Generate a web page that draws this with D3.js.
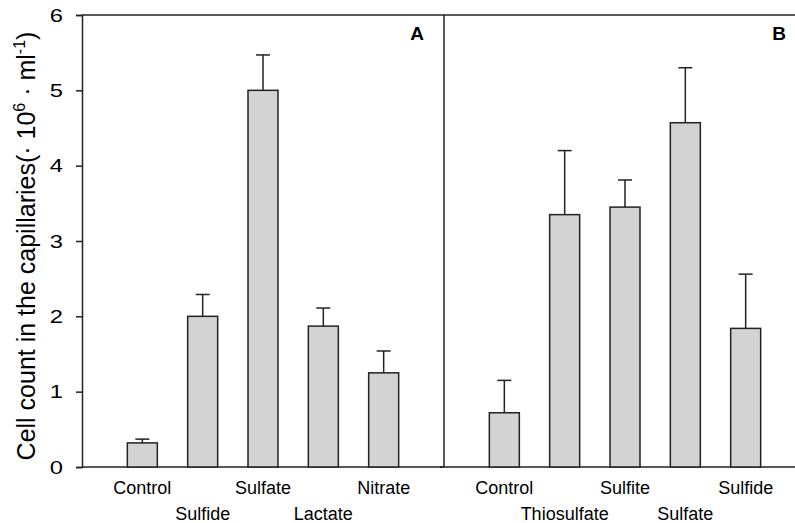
<!DOCTYPE html>
<html lang="en">
<head>
  <meta charset="UTF-8">
  <title>Cell count in the capillaries</title>
  <script src="https://d3js.org/d3.v7.min.js"></script>
  <style>
    body { margin: 0; background: #fff; }
    text { font-family: "Liberation Sans", Arial, sans-serif; fill: #000; }
    .frame { stroke: #222; stroke-width: 1.5; fill: none; }
    .bar { fill: #d3d3d3; stroke: #222; stroke-width: 1.5; }
    .err { stroke: #222; stroke-width: 1.5; }
  </style>
</head>
<body>
<svg width="795" height="523"></svg>
<script>
  // Panel A
  const catsA = ["Control", "Sulfide", "Sulfate", "Lactate", "Nitrate"];
  const valsA = [0.32, 2.0, 5.0, 1.87, 1.25];
  const errA  = [0.05, 0.29, 0.47, 0.24, 0.29];
  // Panel B
  const catsB = ["Control", "Thiosulfate", "Sulfite", "Sulfate", "Sulfide"];
  const valsB = [0.72, 3.35, 3.45, 4.57, 1.84];
  const errB  = [0.43, 0.85, 0.36, 0.73, 0.72];
  const yTicks = [0, 1, 2, 3, 4, 5, 6];

  const svg = d3.select("svg");
  const padL = 82, padMid = 444, padT = 15, padB = 467, padR = 806;

  const y = d3.scaleLinear().domain([0, 6]).range([padB, padT]);

  // frame
  svg.append("line").attr("class", "frame")
    .attr("x1", padL).attr("x2", 795).attr("y1", padT).attr("y2", padT);
  svg.append("line").attr("class", "frame")
    .attr("x1", padL).attr("x2", 795).attr("y1", padB).attr("y2", padB);
  svg.append("line").attr("class", "frame")
    .attr("x1", padMid).attr("x2", padMid).attr("y1", padT).attr("y2", padB);
  svg.append("line").attr("class", "frame")
    .attr("x1", padMid - 4).attr("x2", padMid).attr("y1", padB).attr("y2", padB);

  // y axis
  const yAxis = svg.append("g")
    .attr("transform", `translate(${padL},0)`)
    .call(d3.axisLeft(y).tickValues(yTicks).tickFormat(d3.format("d")).tickSize(6).tickPadding(0));
  yAxis.select(".domain").attr("stroke", "#222").attr("stroke-width", 1.5);
  yAxis.selectAll(".tick line").attr("stroke", "#222").attr("stroke-width", 1.5);
  yAxis.selectAll(".tick text")
    .attr("x", null).attr("dy", null)
    .attr("font-size", 19)
    .attr("font-family", "Liberation Sans, Arial, sans-serif")
    .attr("text-anchor", "end")
    .attr("dominant-baseline", "central")
    .attr("transform", "translate(-19,0) scale(1.25,1)");

  // y label
  const ylab = svg.append("text")
    .attr("transform", `translate(35,${(padT + padB) / 2 + 5}) rotate(-90)`)
    .attr("text-anchor", "middle")
    .attr("font-size", 25);
  ylab.append("tspan").text("Cell count in the capillaries(\u00b7 10");
  ylab.append("tspan").attr("font-size", 16).attr("dy", -10).text("6");
  ylab.append("tspan").attr("dy", 10).text(" \u00b7 ml");
  ylab.append("tspan").attr("font-size", 16).attr("dy", -10).text("-1");
  ylab.append("tspan").attr("dy", 10).text(")");

  function panel(cats, vals, errs, x0, x1, letter) {
    const x = d3.scalePoint().domain(cats).range([x0, x1]).padding(1);
    const bw = 30, cap = 14;
    const g = svg.append("g");
    g.selectAll("line.errv").data(cats).enter().append("line")
      .attr("class", "err")
      .attr("x1", d => x(d)).attr("x2", d => x(d))
      .attr("y1", (d, i) => y(vals[i])).attr("y2", (d, i) => y(vals[i] + errs[i]));
    g.selectAll("line.errc").data(cats).enter().append("line")
      .attr("class", "err")
      .attr("x1", d => x(d) - cap / 2).attr("x2", d => x(d) + cap / 2)
      .attr("y1", (d, i) => y(vals[i] + errs[i])).attr("y2", (d, i) => y(vals[i] + errs[i]));
    g.selectAll("rect").data(cats).enter().append("rect")
      .attr("class", "bar")
      .attr("x", d => x(d) - bw / 2).attr("width", bw)
      .attr("y", (d, i) => y(vals[i]))
      .attr("height", (d, i) => y(0) - y(vals[i]));
    g.selectAll("text.cat").data(cats).enter().append("text")
      .attr("x", d => x(d))
      .attr("y", (d, i) => i % 2 === 0 ? 494 : 520)
      .attr("text-anchor", "middle")
      .attr("font-size", 18)
      .text(d => d);
    g.append("text")
      .attr("x", Math.min(x1 - 20, 795))
      .attr("y", 40)
      .attr("text-anchor", "end")
      .attr("font-size", 19)
      .attr("font-weight", "bold")
      .text(letter);
  }

  panel(catsA, valsA, errA, padL, padMid, "A");
  panel(catsB, valsB, errB, padMid, padR, "B");
</script>
</body>
</html>
